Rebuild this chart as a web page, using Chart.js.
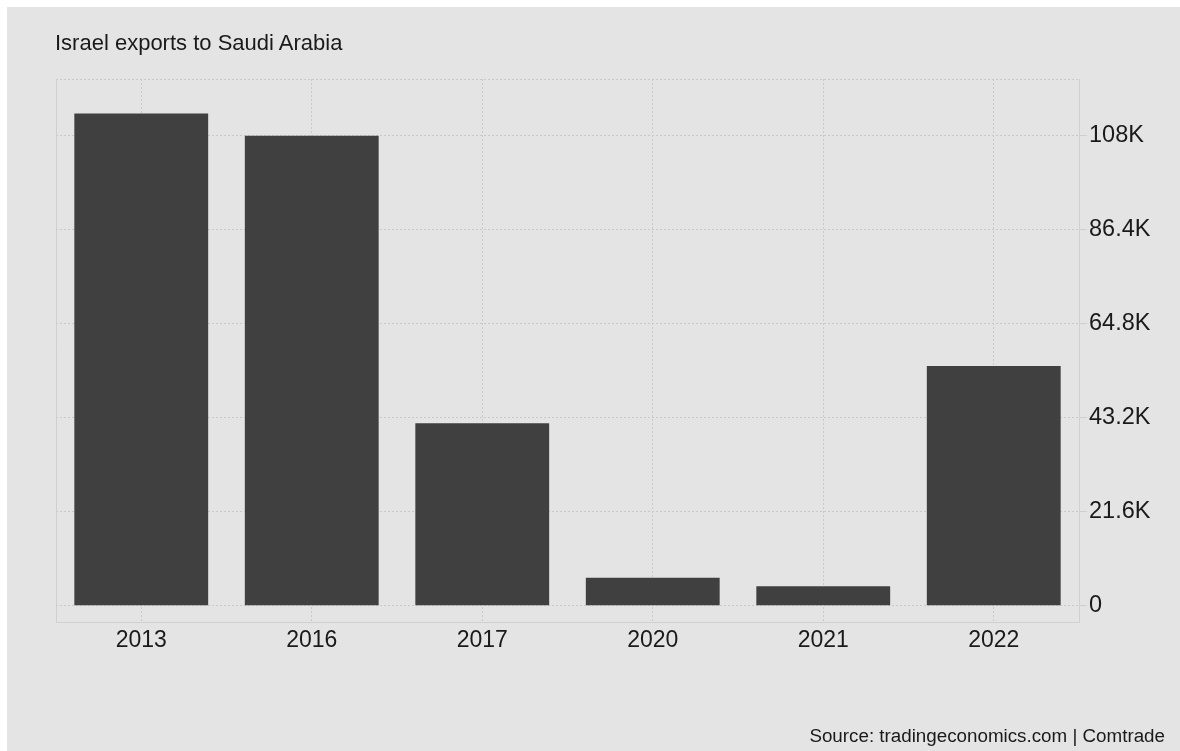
<!DOCTYPE html>
<html>
<head>
<meta charset="utf-8">
<script src="https://cdn.jsdelivr.net/npm/chart.js@4.4.1/dist/chart.umd.min.js"></script>
<style>
  html, body { margin: 0; padding: 0; background: #ffffff; width: 1180px; height: 751px; overflow: hidden; }
  #panel { position: absolute; left: 7px; top: 7px; width: 1173px; height: 744px; background: #e4e4e4; }
  #wrap { position: absolute; left: 0; top: 0; width: 1173px; height: 744px; }
  #title { position: absolute; left: 48px; top: 23px; font-family: "Liberation Sans", Arial, sans-serif; font-size: 22px; color: #1a1a1a; white-space: nowrap; }
  #source { position: absolute; right: 15px; top: 718px; font-family: "Liberation Sans", Arial, sans-serif; font-size: 18.8px; color: #1a1a1a; white-space: nowrap; }
</style>
</head>
<body>
<div id="panel">
  <div id="wrap"><canvas id="c"></canvas></div>
  <div id="title">Israel exports to Saudi Arabia</div>
  <div id="source">Source: tradingeconomics.com | Comtrade</div>
</div>
<script>
const categories = ["2013", "2016", "2017", "2020", "2021", "2022"];
const exportsValues = [113000, 107900, 41900, 6400, 4450, 55000];
const yTickValues = [0, 21600, 43200, 64800, 86400, 108000];
const yTickLabels = ["0", "21.6K", "43.2K", "64.8K", "86.4K", "108K"];
const yMin = -3740;
const yMax = 120900;

const frame = {
  id: 'frame',
  beforeDatasetsDraw(chart) {
    const a = chart.chartArea, ctx = chart.ctx;
    ctx.save();
    ctx.lineWidth = 1;
    ctx.strokeStyle = '#c9c9c9';
    ctx.setLineDash([2, 2]);
    ctx.beginPath();
    ctx.moveTo(a.left, a.top + 0.5);
    ctx.lineTo(a.right, a.top + 0.5);
    ctx.stroke();
    ctx.setLineDash([]);
    ctx.strokeStyle = '#d0d0d0';
    ctx.beginPath();
    ctx.moveTo(a.left + 0.5, a.top);
    ctx.lineTo(a.left + 0.5, a.bottom);
    ctx.stroke();
    ctx.restore();
  }
};

const canvas = document.getElementById('c');
canvas.width = 1173; canvas.height = 744;
new Chart(canvas, {
  type: 'bar',
  data: {
    labels: categories,
    datasets: [{
      data: exportsValues,
      backgroundColor: '#404040',
      borderWidth: 0,
      categoryPercentage: 0.785,
      barPercentage: 1.0
    }]
  },
  options: {
    responsive: false,
    animation: false,
    devicePixelRatio: 1,
    layout: { padding: { left: 49, top: 72, right: 0, bottom: 0 } },
    plugins: { legend: { display: false }, tooltip: { enabled: false } },
    scales: {
      x: {
        offset: true,
        grid: { offset: false, color: '#c9c9c9', drawTicks: false, lineWidth: 1 },
        border: { display: true, color: '#d0d0d0', dash: [2, 2] },
        ticks: { color: '#1a1a1a', font: { family: 'Liberation Sans', size: 23 }, padding: 5, maxRotation: 0 },
        afterFit(s) { s.height = 129; }
      },
      y: {
        position: 'right',
        min: yMin,
        max: yMax,
        afterBuildTicks(s) { s.ticks = yTickValues.map(v => ({ value: v })); },
        grid: { color: '#c9c9c9', drawTicks: true, tickLength: 8, tickColor: '#d0d0d0', lineWidth: 1 },
        border: { display: true, color: '#d0d0d0', dash: [2, 2] },
        ticks: {
          color: '#1a1a1a', font: { family: 'Liberation Sans', size: 23.5 }, padding: 2,
          callback(v) { const i = yTickValues.indexOf(v); return i >= 0 ? yTickLabels[i] : ''; }
        },
        afterFit(s) { s.width = 101; }
      }
    }
  },
  plugins: [frame]
});
</script>
</body>
</html>
